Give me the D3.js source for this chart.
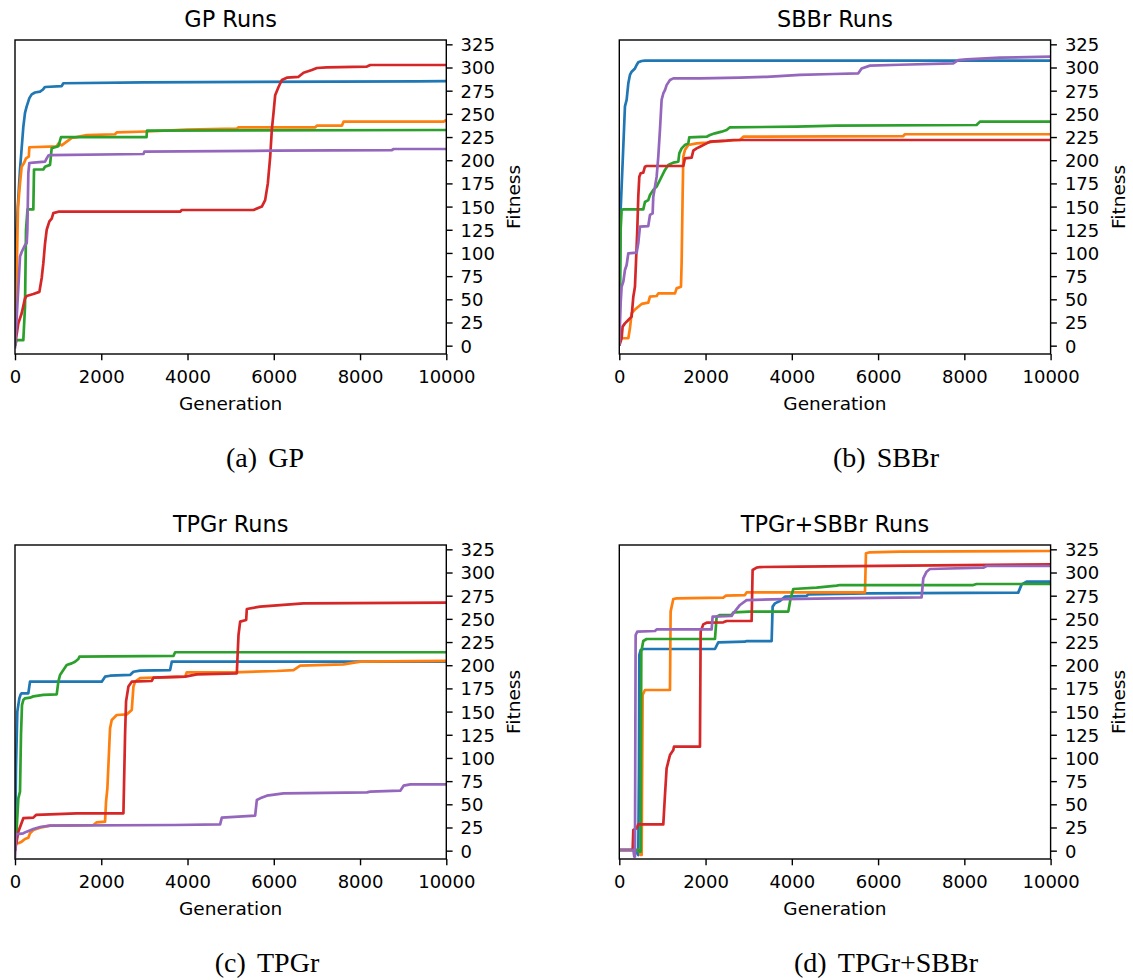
<!DOCTYPE html>
<html>
<head>
<meta charset="utf-8">
<script src="https://cdn.jsdelivr.net/npm/d3@7"></script>
<style>
  html, body { margin: 0; padding: 0; background: #ffffff; }
  svg { display: block; }
</style>
</head>
<body>
<script>
// ---------------- DATA ----------------
const panelTitles = ["GP Runs", "SBBr Runs", "TPGr Runs", "TPGr+SBBr Runs"];
const captionTags = ["(a)", "(b)", "(c)", "(d)"];
const captionNames = ["GP", "SBBr", "TPGr", "TPGr+SBBr"];
const xTicks = [0, 2000, 4000, 6000, 8000, 10000];
const yTicks = [0, 25, 50, 75, 100, 125, 150, 175, 200, 225, 250, 275, 300, 325];
const xLabel = "Generation";
const yLabel = "Fitness";
const runColors = ["#1f77b4", "#ff7f0e", "#2ca02c", "#d62728", "#9467bd"];

// GP runs: [generation, fitness]
const gpBlue = [[0,0],[15,110],[116,190],[193,236],[232,251],[271,258],[333,267],[387,271],[464,273],[580,274],[642,276],[696,279],[1083,280],[1121,283],[2978,284],[9319,285],[10000,285.4]];
const gpOrange = [[0,0],[40,80],[70,150],[116,175],[155,193],[209,197],[255,202],[320,204],[333,214],[967,215],[1005,218],[1083,216],[1199,220],[1315,224],[1431,225],[1663,227],[2320,228],[2359,230],[3055,231],[3983,233],[5143,234],[5182,235.5],[6961,235.5],[7000,237.3],[7579,237.3],[7618,241.6],[9938,241.6],[10000,243.4]];
const gpGreen = [[0,0],[40,6],[193,6],[232,42],[255,125],[290,147],[425,147],[441,190],[657,190],[696,193],[812,195],[851,213],[1005,215],[1067,225],[3050,225],[3060,232],[10000,232.6]];
const gpRed = [[0,0],[77,24],[155,35],[232,51],[271,53.6],[425,55.7],[565,58],[619,73],[657,89],[696,110],[735,125],[797,134],[851,137],[889,143],[1005,144.5],[3828,144.5],[3867,146.3],[5530,146.3],[5723,150],[5800,157],[5862,175],[5917,204],[5955,233],[5994,251],[6032,270],[6110,279],[6187,286.5],[6303,289],[6574,290],[6690,294.4],[6883,297.3],[6999,299.5],[7231,300.2],[8159,301],[8237,302.7],[10000,302.7]];
const gpPurple = [[0,-3],[116,96],[155,101],[232,108.6],[271,110.4],[287,125],[309,186],[333,197],[425,197.4],[696,198.4],[735,202],[773,205],[812,205.6],[2978,206.7],[3000,209.2],[6000,210.3],[8740,211],[8780,212.1],[10000,212.1]];

// SBBr runs
const sbBlue = [[0,0],[31,146],[77,197],[131,258],[170,265],[209,283],[247,292],[286,295.5],[363,299],[402,302.7],[440,305.6],[518,307],[595,307.4],[10000,307.4]];
const sbOrange = [[0,0],[30,8],[209,8],[247,18.7],[286,35],[363,39],[440,42],[518,45],[672,46.4],[711,52.8],[866,53.6],[904,56.4],[1291,56.4],[1329,61.8],[1430,63.6],[1445,89],[1468,161],[1484,204],[1522,211],[1600,216.4],[1793,218.2],[2025,219],[2179,220],[2797,221.8],[2875,225.4],[6584,226.1],[6623,228],[10000,228]];
const sbGreen = [[0,0],[31,125],[54,146.3],[93,147],[556,147],[595,155],[672,157],[711,162.5],[788,168],[866,171.5],[943,178.7],[1059,189.5],[1136,194.8],[1252,197.4],[1368,198.4],[1391,207.4],[1445,212.8],[1522,216.4],[1600,218.2],[1623,224.7],[2025,225.4],[2102,227.2],[2218,229],[2372,230.8],[2488,232.6],[2566,235.5],[4111,236.2],[5039,237.3],[8284,238],[8362,241.6],[10000,241.6]];
const sbRed = [[0,0],[54,8],[77,20.5],[131,24],[209,27.7],[286,31.3],[325,52.8],[363,63.6],[386,88.8],[417,124.7],[440,160.7],[464,182.3],[495,186],[556,186.6],[595,193],[634,193.8],[1484,193.8],[1522,202],[1677,202.8],[1716,210.3],[1793,212.8],[1870,214.6],[2025,218.2],[2102,220],[2488,221.1],[2643,221.8],[10000,221.8]];
const sbPurple = [[0,0],[31,45.7],[54,63.6],[93,69],[131,81.6],[170,87],[209,99.6],[402,100.3],[440,110.4],[479,128.3],[672,129],[711,141],[773,142.7],[788,160.7],[827,171.5],[866,182.3],[904,204],[943,233],[981,265],[1020,272],[1059,275.6],[1097,281],[1175,286.5],[1252,288.3],[1870,288.3],[2797,289],[3416,290],[4188,292],[4961,293],[5541,293.7],[5618,299],[5811,302],[6507,303],[7743,304.5],[7859,308],[8053,308.8],[8825,310.6],[10000,311.7]];

// TPGr runs
const tpBlue = [[0,0],[23,89],[54,150],[101,164.3],[131,168.6],[155,169.7],[309,169.7],[348,182.3],[2011,182.3],[2088,187.7],[2204,188.7],[2668,189.5],[2746,193],[2900,194.1],[3596,194.8],[3635,203.8],[10000,203.8]];
const tpOrange = [[0,0],[23,8],[77,8],[155,9.7],[232,12.6],[309,14],[348,18.7],[425,22.3],[580,24.8],[812,27],[1817,27.7],[1895,30.6],[2088,31.3],[2111,52.8],[2142,67.2],[2204,132],[2243,141],[2359,146.3],[2591,147],[2707,151.7],[2746,177],[2784,182.3],[2900,186],[3210,186.6],[3944,187.7],[3983,192.3],[5066,192.3],[6071,193.8],[6458,194.8],[6613,199.5],[7618,201],[8005,203.8],[10000,204.6]];
const tpGreen = [[0,0],[39,24],[77,56.4],[116,63.6],[139,124.7],[162,157],[193,162.5],[232,164.3],[348,165],[425,166.4],[657,168],[967,168.6],[1005,182.3],[1044,189.5],[1121,194.8],[1199,200.2],[1315,202],[1392,203.8],[1469,206.7],[1493,209.2],[3674,210],[3712,214],[10000,214]];
const tpRed = [[0,0],[77,20.5],[193,35],[425,35.6],[487,38.5],[812,39.2],[1431,40.3],[2514,40.3],[2552,125],[2575,161],[2630,177],[2707,182.3],[3171,183],[3210,186.6],[3944,187.7],[4215,190.2],[5143,191.3],[5182,232.6],[5220,247],[5360,248.8],[5375,260.6],[5684,263.2],[5994,264.2],[6690,266.7],[10000,267.5]];
const tpPurple = [[0,-8],[23,17.6],[193,18.7],[271,20.5],[425,23.4],[580,25.5],[812,27],[3712,27.7],[4756,28.4],[4795,35.6],[5568,37.7],[5607,54.6],[5684,56.4],[5839,59.3],[6226,61.8],[8159,62.9],[8237,63.6],[8933,64.7],[9010,70.1],[9165,71.5],[10000,71.5]];

// TPGr+SBBr runs
const tsBlue = [[0,0.7],[402,0.7],[417,-3],[440,-4.7],[456,89],[464,211],[495,216.4],[556,217.5],[2218,217.5],[2295,224.7],[2913,225.4],[2952,226.1],[3532,226.1],[3555,263.2],[3609,266.7],[3725,269.2],[3841,273.9],[4343,274.7],[4382,276.5],[5734,277.5],[9250,278.3],[9328,287.2],[9444,290.1],[10000,290.1]];
const tsOrange = [[0,0.7],[464,0.7],[495,-4.7],[518,-4.7],[541,168],[595,173.3],[1175,173.3],[1190,257.8],[1252,271.4],[1329,272.1],[2411,272.9],[2473,275],[2913,275.7],[2952,278.6],[5696,278.6],[5719,320.7],[5811,321.8],[6507,322.5],[10000,323.2]];
const tsGreen = [[0,0.7],[440,0.7],[464,-1.1],[495,-1.1],[510,214.6],[556,226.1],[634,228.3],[2218,228.3],[2257,252.4],[2334,254.2],[2604,254.2],[2643,257],[3029,257.8],[3918,257.8],[3972,272.1],[4034,282.2],[4575,283.6],[5039,285.8],[5116,286.5],[8207,286.5],[8284,287.6],[10000,287.6]];
const tsRed = [[0,0.7],[309,0.7],[325,22.3],[402,24.1],[440,28.4],[1020,28.4],[1059,60],[1097,88.8],[1136,96],[1175,103.2],[1252,108.6],[1267,112.2],[1870,112.2],[1886,236.2],[1947,244.1],[2025,245.9],[2411,246.3],[2488,247.7],[3068,247.7],[3091,302.7],[3184,305.2],[3261,305.9],[4188,306.3],[10000,308.8]];
const tsPurple = [[0,0.7],[325,0.7],[348,-6.5],[363,-6.5],[379,232.6],[417,236.2],[827,236.9],[866,238.7],[2141,238.7],[2164,252.4],[2604,253.1],[2643,256],[2798,265],[2952,270.3],[3802,271.4],[4961,272.1],[7009,273.2],[7048,293.7],[7125,300.9],[7202,303.8],[8439,305.2],[8516,307],[10000,307]];

const panelRuns = [
  [gpBlue, gpOrange, gpGreen, gpRed, gpPurple],
  [sbBlue, sbOrange, sbGreen, sbRed, sbPurple],
  [tpBlue, tpOrange, tpGreen, tpRed, tpPurple],
  [tsBlue, tsOrange, tsGreen, tsRed, tsPurple]
];

// ---------------- LAYOUT ----------------
const W = 1133, H = 980;
const plotW = 431.3, plotH = 314;
const origins = [[15, 40], [619.3, 40], [15, 545], [619.3, 545]];
const captionCenters = [265, 886, 267, 886];
const yDomain = [-8.99, 329.67];
const xDomain = [0, 10000];
const sansFont = "'DejaVu Sans', sans-serif";
const serifFont = "'Liberation Serif', 'DejaVu Serif', serif";

const svg = d3.select("body").append("svg")
  .attr("width", W).attr("height", H)
  .attr("viewBox", `0 0 ${W} ${H}`);
svg.append("rect").attr("width", W).attr("height", H).attr("fill", "#ffffff");

const x = d3.scaleLinear().domain(xDomain).range([0, plotW]);
const y = d3.scaleLinear().domain(yDomain).range([plotH, 0]);
const line = d3.line().x(d => x(d[0])).y(d => y(d[1]));

panelRuns.forEach((runs, i) => {
  const [ox, oy] = origins[i];
  const g = svg.append("g").attr("transform", `translate(${ox},${oy})`);

  const clipId = `clip${i}`;
  g.append("clipPath").attr("id", clipId)
    .append("rect").attr("width", plotW).attr("height", plotH);

  const lines = g.append("g").attr("clip-path", `url(#${clipId})`);
  runs.forEach((run, k) => {
    lines.append("path")
      .datum(run)
      .attr("d", line)
      .attr("fill", "none")
      .attr("stroke", runColors[k])
      .attr("stroke-width", 2.7)
      .attr("stroke-linejoin", "round")
      .attr("stroke-linecap", "butt");
  });

  // x axis
  const xa = g.append("g").attr("transform", `translate(0,${plotH})`)
    .call(d3.axisBottom(x).tickValues(xTicks).tickFormat(d3.format("d"))
      .tickSize(6.3).tickPadding(9.5));
  // y axis on the right
  const ya = g.append("g").attr("transform", `translate(${plotW},0)`)
    .call(d3.axisRight(y).tickValues(yTicks).tickFormat(d3.format("d"))
      .tickSize(6.3).tickPadding(8));
  [xa, ya].forEach(a => {
    a.select(".domain").remove();
    a.selectAll(".tick line").attr("stroke", "#000").attr("stroke-width", 1.4);
    a.selectAll(".tick text").attr("fill", "#000")
      .style("font-family", sansFont).style("font-size", "18px");
  });
  ya.selectAll(".tick text").attr("dy", "0.36em");

  // frame
  g.append("rect").attr("width", plotW).attr("height", plotH)
    .attr("fill", "none").attr("stroke", "#000").attr("stroke-width", 1.4);

  // title
  g.append("text").attr("x", plotW / 2).attr("y", -12.7)
    .attr("text-anchor", "middle")
    .style("font-family", sansFont).style("font-size", "22.4px")
    .attr("fill", "#000").text(panelTitles[i]);

  // x label
  g.append("text").attr("x", plotW / 2).attr("y", plotH + 56)
    .attr("text-anchor", "middle")
    .style("font-family", sansFont).style("font-size", "18.5px")
    .attr("fill", "#000").text(xLabel);

  // y label (right side)
  g.append("text")
    .attr("transform", `translate(${plotW + 74},${plotH / 2}) rotate(-90)`)
    .attr("text-anchor", "middle")
    .style("font-family", sansFont).style("font-size", "18.5px")
    .attr("fill", "#000").text(yLabel);

  // caption
  const cap = svg.append("text")
    .attr("x", captionCenters[i]).attr("y", oy + 427)
    .attr("text-anchor", "middle")
    .style("font-family", serifFont).style("font-size", "28px")
    .attr("fill", "#000");
  cap.append("tspan").text(captionTags[i]);
  cap.append("tspan").attr("dx", "0.4em").text(captionNames[i]);
});
</script>
</body>
</html>
